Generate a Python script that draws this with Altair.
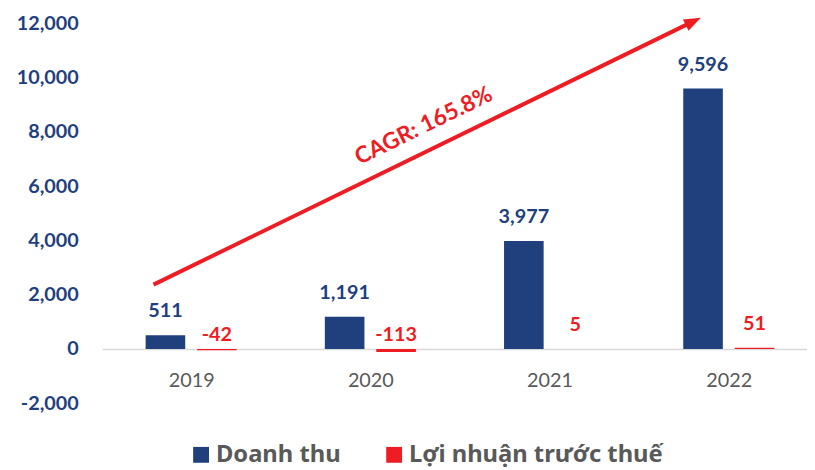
import altair as alt
import pandas as pd

# ---- data ----
years = ["2019", "2020", "2021", "2022"]
series_names = ["Doanh thu", "Lợi nhuận trước thuế"]
revenue = [511, 1191, 3977, 9596]
profit = [-42, -113, 5, 51]
y_ticks = [-2000, 0, 2000, 4000, 6000, 8000, 10000, 12000]

# CAGR annotation (arrow + text), in data space:
# x in category-index units (0 = 2019 ... 3 = 2022), y in value units
cagr_text = "CAGR: 165.8%"
arrow_x = [-0.21, 2.802]
arrow_y = [2372, 12066]
cagr_pos_x = [1.298]
cagr_pos_y = [8212]

FONT = "Lato, Noto Sans, sans-serif"
LEGEND_FONT = "Noto Sans, sans-serif"
NAVY = "#1F3F7F"
BLUE = "#1F407D"
RED = "#EE1D23"
GRAY = "#595959"

# layout of the grouped bars (in category units)
GROUP_OFF = 0.1436
HALF_W = 0.1105

rows = []
for i, yr in enumerate(years):
    rows.append({"year": yr, "idx": i, "series": series_names[0], "value": revenue[i]})
    rows.append({"year": yr, "idx": i, "series": series_names[1], "value": profit[i]})
df = pd.DataFrame(rows)

arrow_df = pd.DataFrame({"x1": [arrow_x[0]], "y1": [arrow_y[0]],
                         "x2": [arrow_x[1]], "y2": [arrow_y[1]]})
head_df = pd.DataFrame({"x": [arrow_x[1]], "y": [arrow_y[1]]})
text_df = pd.DataFrame({"x": cagr_pos_x, "y": cagr_pos_y})

x_scale = alt.Scale(domain=[-0.4972, 3.4365], nice=False, zero=False)
y_scale = alt.Scale(domain=[-2000, 12000], nice=False, zero=False)

x_label_expr = "[" + ",".join("'%s'" % y for y in years) + "][datum.value]"
y_label_expr = "replace(format(datum.value, ','), '\u2212', '-')"

base = alt.Chart(df).transform_calculate(
    xc=f"datum.idx + (datum.series == '{series_names[0]}' ? -{GROUP_OFF} : {GROUP_OFF})",
    xa=f"datum.idx + (datum.series == '{series_names[0]}' ? -{GROUP_OFF} : {GROUP_OFF}) - {HALF_W}",
    xb=f"datum.idx + (datum.series == '{series_names[0]}' ? -{GROUP_OFF} : {GROUP_OFF}) + {HALF_W}",
    ypos="max(datum.value, 0)",
    lbl="replace(format(datum.value, ','), '\u2212', '-')",
)

bars = base.mark_bar().encode(
    x=alt.X("xa:Q", scale=x_scale,
            axis=alt.Axis(values=[0, 1, 2, 3], labelExpr=x_label_expr, title=None,
                          labelFont=FONT, labelFontSize=20, labelFontWeight="normal",
                          labelColor=GRAY, labelPadding=22, ticks=False,
                          domain=True, domainColor="#D9D9D9", domainWidth=1.5,
                          offset=-54.86, grid=False, labelFlush=False)),
    x2="xb:Q",
    y=alt.Y("value:Q", scale=y_scale,
            axis=alt.Axis(values=y_ticks, labelExpr=y_label_expr, title=None,
                          labelFont=FONT, labelFontSize=20, labelFontWeight="bold",
                          labelColor=NAVY, labelPadding=24, ticks=False,
                          domain=False, grid=False)),
    y2=alt.datum(0),
    color=alt.Color(
        "series:N", sort=series_names,
        scale=alt.Scale(domain=series_names, range=[BLUE, RED]),
        legend=alt.Legend(
            orient="none", legendX=88, legendY=424, direction="horizontal",
            title=None, symbolType="square", symbolSize=256,
            symbolStrokeWidth=0, symbolOpacity=1, labelFont=LEGEND_FONT,
            labelFontSize=24, labelFontWeight="bold", labelColor=GRAY,
            columnPadding=42, labelOffset=3, labelLimit=500,
        ),
    ),
)

label_color = alt.condition(alt.datum.series == series_names[0],
                            alt.value(NAVY), alt.value(RED))

labels_pos = base.transform_filter(alt.datum.value >= 0).mark_text(
    font=FONT, fontSize=20, fontWeight="bold", baseline="alphabetic", dy=-18
).encode(
    x=alt.X("xc:Q", scale=x_scale),
    y=alt.Y("ypos:Q", scale=y_scale),
    text="lbl:N",
    color=label_color,
)

labels_neg = base.transform_filter(alt.datum.value < 0).mark_text(
    font=FONT, fontSize=20, fontWeight="bold", baseline="alphabetic", dy=-8
).encode(
    x=alt.X("xc:Q", scale=x_scale),
    y=alt.Y("ypos:Q", scale=y_scale),
    text="lbl:N",
    color=label_color,
)

arrow = alt.Chart(arrow_df).mark_rule(color=RED, strokeWidth=4, strokeCap="butt").encode(
    x=alt.X("x1:Q", scale=x_scale),
    x2="x2:Q",
    y=alt.Y("y1:Q", scale=y_scale),
    y2="y2:Q",
)

head = alt.Chart(head_df).mark_point(
    shape="M0,-1L0.75,1L-0.75,1Z", filled=True, size=289, angle=64,
    color=RED, opacity=1, strokeWidth=0,
).encode(
    x=alt.X("x:Q", scale=x_scale),
    y=alt.Y("y:Q", scale=y_scale),
)

cagr = alt.Chart(text_df).mark_text(
    text=cagr_text, angle=334, font=FONT, fontSize=23, fontWeight="bold",
    color=RED, align="center", baseline="middle",
).encode(
    x=alt.X("x:Q", scale=x_scale),
    y=alt.Y("y:Q", scale=y_scale),
)

chart = alt.layer(bars, labels_pos, labels_neg, arrow, head, cagr).properties(
    width=712, height=384,
    autosize=alt.AutoSizeParams(type="none"),
    padding={"left": 95, "top": 13, "right": 0, "bottom": 65},
    background="white",
).configure_view(stroke=None)

chart.save("out.html", embed_options={"renderer": "svg", "actions": False})
